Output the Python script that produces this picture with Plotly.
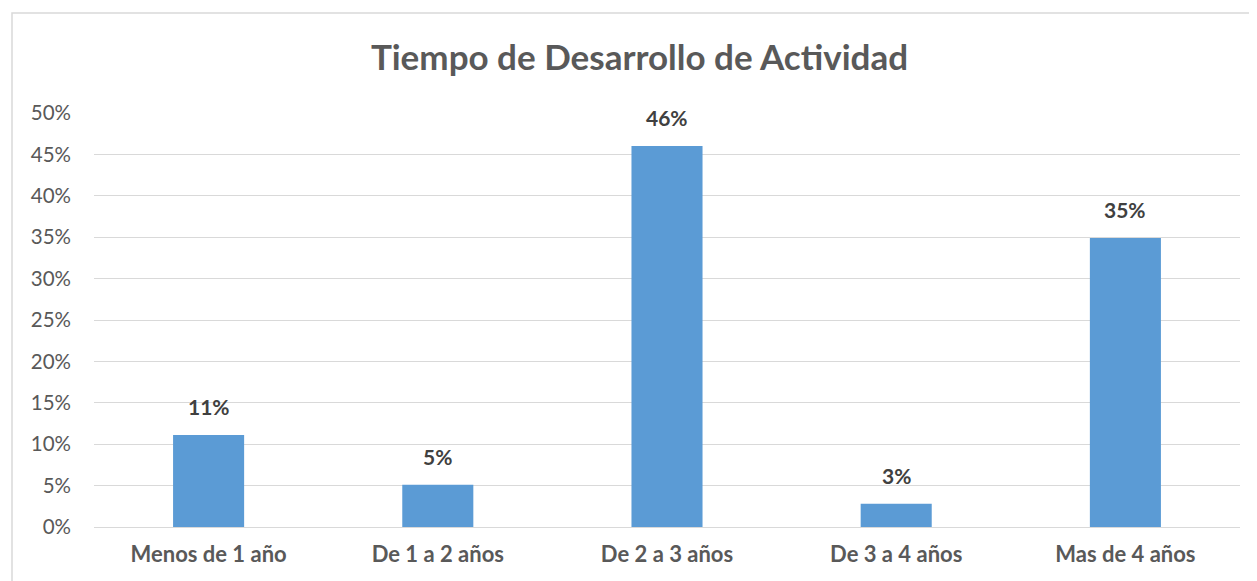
import plotly.graph_objects as go

categories = ["Menos de 1 año", "De 1 a 2 años", "De 2 a 3 años", "De 3 a 4 años", "Mas de 4 años"]
values = [0.111, 0.051, 0.46, 0.028, 0.349]
labels = ["11%", "5%", "46%", "3%", "35%"]
y_ticks = [0, 0.05, 0.10, 0.15, 0.20, 0.25, 0.30, 0.35, 0.40, 0.45, 0.50]
y_tick_text = ["0%", "5%", "10%", "15%", "20%", "25%", "30%", "35%", "40%", "45%", "50%"]

# page body has an 8px margin, so the figure is drawn 8px smaller and shifted
OFF = 8
W, H = 1257 - OFF, 581 - OFF
L, R, T, B = 94 - OFF, 17, 113 - OFF, 54
pw, ph = W - L - R, H - T - B

FONT = "Lato, 'Open Sans', sans-serif"
GRAY = "#595959"

fig = go.Figure()
fig.add_trace(go.Bar(
    x=categories, y=values,
    marker=dict(color="#5B9BD5", line=dict(width=0)),
    width=0.31,
    hoverinfo="skip",
))

for c, v, t in zip(categories, values, labels):
    fig.add_annotation(
        x=c, y=v, text=f"<b>{t}</b>", showarrow=False,
        yanchor="bottom", yshift=14,
        font=dict(family=FONT, size=21, color="#404040"),
    )

fig.add_shape(
    type="rect", xref="paper", yref="paper",
    x0=(12 - OFF - L) / pw, x1=(W + 10 - L) / pw,
    y0=-(B + 10) / ph, y1=1 + (T - (13 - OFF)) / ph,
    line=dict(color="#D9D9D9", width=1.5), fillcolor="rgba(0,0,0,0)",
    layer="below",
)

fig.update_layout(
    width=W, height=H,
    margin=dict(l=L, r=R, t=T, b=B, autoexpand=False),
    paper_bgcolor="white", plot_bgcolor="white",
    showlegend=False,
    title=dict(
        text="<b>Tiempo de Desarrollo de Actividad</b>",
        x=(639.5 - OFF) / W, xanchor="center",
        y=1 - (58 - OFF) / H, yanchor="middle",
        font=dict(family=FONT, size=35, color=GRAY),
    ),
)
fig.update_yaxes(
    range=[0, 0.5], tickvals=y_ticks, ticktext=y_tick_text,
    showgrid=True, gridcolor="#D9D9D9", gridwidth=1,
    zeroline=True, zerolinecolor="#D9D9D9", zerolinewidth=1,
    showline=False, ticks="", ticklabelstandoff=22,
    tickfont=dict(family=FONT, size=20.5, color=GRAY),
    fixedrange=True,
)
fig.update_xaxes(
    showgrid=False, showline=False, ticks="", ticklabelstandoff=12,
    tickfont=dict(family=FONT, size=22, color=GRAY, weight="bold"),
    fixedrange=True,
)

fig.write_html("out.html", config={"displayModeBar": False})
